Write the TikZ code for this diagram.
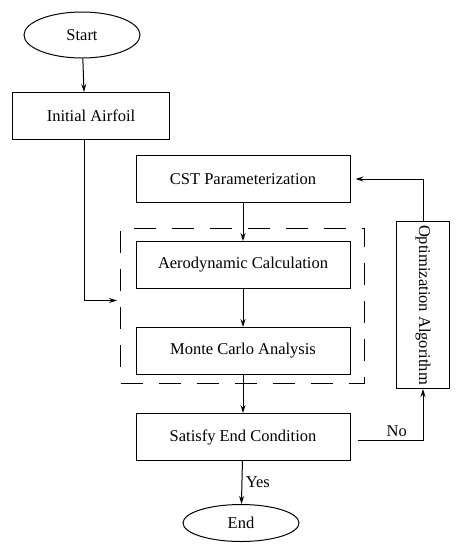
\documentclass[tikz,border=0pt]{standalone}
\usepackage{fontspec}
\setmainfont{Liberation Serif}
\usetikzlibrary{shapes.geometric,arrows.meta,positioning,fit,calc}

\begin{document}
\begin{tikzpicture}[x=1pt, y=1pt, node distance=86pt, line width=1pt]
\tikzstyle{terminal} = [ellipse, draw, minimum width=116pt, inner sep=0pt, font=\fontsize{16.5}{19}\selectfont]
\tikzstyle{process} = [rectangle, draw, minimum width=214pt, minimum height=47pt, text centered, font=\fontsize{16.5}{19}\selectfont]
\tikzstyle{group} = [draw, dash pattern=on 22pt off 16pt, inner sep=0pt]
\tikzstyle{arrow} = [-{Stealth[length=8pt,width=5pt]}]
\useasboundingbox (0,0) rectangle (460,-550);

\node (start) [terminal, minimum height=46pt] at (82,-35) {Start};
\node (initial) [process, minimum width=157pt, below of=start, yshift=5pt, xshift=9pt] {Initial Airfoil};

\node (cst) [process] at (243,-179) {CST Parameterization};
\node (aero) [process, below of=cst] {Aerodynamic Calculation};
\node (monte) [process, below of=aero] {Monte Carlo Analysis};
\node (satisfy) [process, below of=monte] {Satisfy End Condition};
\node (end) [terminal, minimum height=37pt, below of=satisfy, xshift=-2pt] {End};

% dashed frame round the analysis
\coordinate (frametl) at ($(aero.north west)+(-15,13)$);
\coordinate (framebr) at ($(monte.south east)+(14,-8)$);
\node (frame) [group, fit=(frametl)(framebr)] {};

\node (opt) [rectangle, draw, minimum width=167pt, minimum height=53pt, rotate=-90, font=\fontsize{16.5}{19}\selectfont] at (423,-305) {Optimization Algorithm};

\draw [arrow] (start) -- ([xshift=-7pt]initial.north);
\draw [arrow] ([xshift=-7pt]initial.south) |- ([xshift=-3pt, yshift=5pt]frame.west);
\draw [arrow] (cst) -- (aero);
\draw [arrow] (aero) -- (monte);
\draw [arrow] (monte) -- (satisfy);
\draw [arrow] (satisfy) -- node[right, font=\fontsize{16.5}{19}\selectfont] {Yes} (end);
\draw [arrow] ([xshift=7pt, yshift=-3pt]satisfy.east) -| node[pos=0.3, above, font=\fontsize{16.5}{19}\selectfont] {No} (opt.east);
\draw [arrow] (opt.west) |- ([xshift=5pt]cst.east);
\end{tikzpicture}
\end{document}
